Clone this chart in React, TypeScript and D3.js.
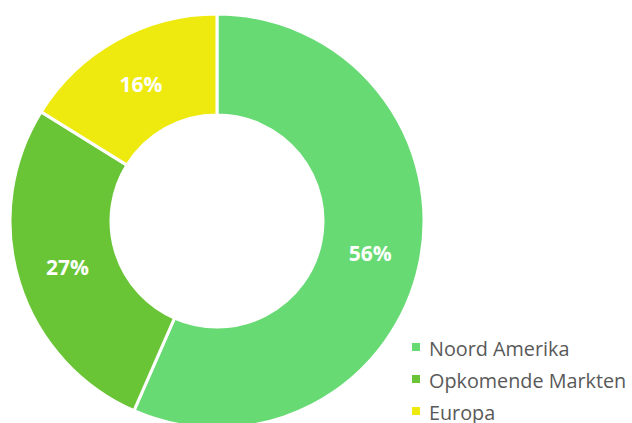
import React from "react";
import * as d3 from "d3";

const categories = ["Noord Amerika", "Opkomende Markten", "Europa"];
const values = [56, 27, 16];
const colors = ["#68DA74", "#69C536", "#EEEA10"];

const W = 632;
const H = 423;
const cx = 217;
const cy = 221;
const outerR = 207;
const innerR = 106;

export default function App() {
  const pie = d3.pie<number>().sort(null).value((d) => d);
  const arcs = pie(values);
  const arc = d3.arc<d3.PieArcDatum<number>>().innerRadius(innerR).outerRadius(outerR);
  const labelArc = d3
    .arc<d3.PieArcDatum<number>>()
    .innerRadius((innerR + outerR) / 2)
    .outerRadius((innerR + outerR) / 2);

  return (
    <svg
      width={W}
      height={H}
      style={{ position: "absolute", left: 0, top: 0, background: "#fff" }}
    >
      <g transform={`translate(${cx},${cy})`}>
        {arcs.map((a, i) => (
          <path key={i} d={arc(a) || ""} fill={colors[i]} stroke="#fff" strokeWidth={3} />
        ))}
        {arcs.map((a, i) => {
          const [x, y] = labelArc.centroid(a);
          return (
            <text
              key={"l" + i}
              x={x}
              y={y}
              dy="0.36em"
              textAnchor="middle"
              fill="#fff"
              fontFamily="'Open Sans', sans-serif"
              fontWeight="bold"
              fontSize={21}
            >
              {values[i]}%
            </text>
          );
        })}
      </g>
      <g>
        {categories.map((c, i) => (
          <g key={c} transform={`translate(412,${343 + i * 32})`}>
            <rect x={0} y={0} width={8} height={8} fill={colors[i]} />
            <text
              x={17}
              y={12.5}
              fill="#595959"
              fontFamily="'Open Sans', sans-serif"
              fontSize={19.8}
            >
              {c}
            </text>
          </g>
        ))}
      </g>
    </svg>
  );
}
